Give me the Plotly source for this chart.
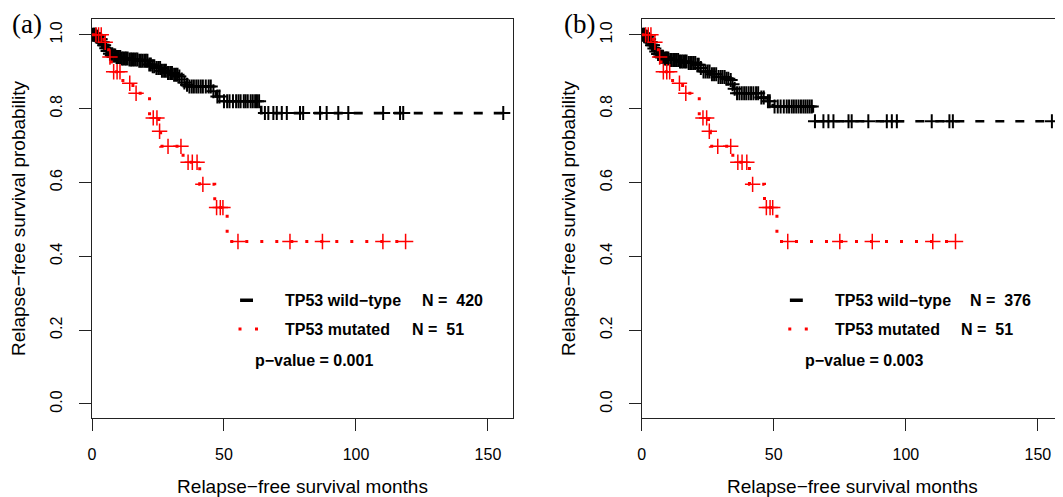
import numpy as np
import plotly.graph_objects as go

# ---- data (months, survival probability) ----
# panel (a)
wt_a_time = [0, 1.5, 2.5, 3.5, 4.3, 5.0, 5.7, 6.4, 7.3, 9.0, 11.1, 14.0, 17.5, 21.2, 22.5, 23.7,
             26.0, 28.5, 30.5, 32.6, 33.6, 34.6, 35.5, 36.4, 45.2, 47.0, 49.0, 64.1]
wt_a_surv = [1.0, 0.995, 0.988, 0.98, 0.972, 0.964, 0.956, 0.949, 0.944, 0.94, 0.936, 0.933, 0.93, 0.92,
             0.915, 0.91, 0.903, 0.897, 0.892, 0.887, 0.879, 0.871, 0.865, 0.86, 0.847, 0.833, 0.82, 0.788]
wt_a_cens = [0.3, 0.7, 1.0, 1.4, 1.8, 2.2, 2.6, 3.0, 3.3, 3.7, 4.1, 4.6, 5.4, 5.9, 6.3, 6.8, 7.5, 7.9,
             8.4, 8.8, 9.3, 9.8, 10.2, 10.7, 11.3, 11.8, 12.4, 12.9, 13.5, 14.2, 14.8, 15.3, 15.9, 16.6,
             17.2, 17.9, 18.5, 19.1, 19.8, 20.4, 21.0, 21.7, 22.3, 23.0, 23.6, 24.4, 25.1, 25.8, 26.5,
             27.3, 28.0, 28.8, 29.6, 30.3, 31.1, 31.8, 32.4, 33.1, 34.0, 35.0, 36.0, 36.9, 37.8, 38.6,
             39.5, 40.3, 41.2, 42.0, 43.1, 44.2, 45.0, 46.0, 47.5, 48.3, 50.0, 51.2, 52.1, 53.4, 54.6,
             55.5, 56.3, 57.5, 58.2, 59.0, 60.1, 60.9, 61.8, 62.5, 63.3,
             65.5, 66.8, 68.7, 70.0, 71.9, 73.8, 78.8, 80.0, 86.4, 88.9, 93.3, 97.1, 110.3, 116.7,
             117.9, 155.8]

# panel (b)
wt_b_time = [0, 1.3, 2.2, 2.9, 3.7, 4.5, 5.2, 6.0, 6.7, 8.5, 10.5, 14.0, 17.5, 20.6, 22.0, 23.1,
             26.0, 29.0, 31.5, 33.2, 34.0, 34.8, 35.7, 44.6, 47.0, 49.6, 64.8]
wt_b_surv = [1.0, 0.995, 0.988, 0.98, 0.972, 0.963, 0.955, 0.948, 0.941, 0.936, 0.932, 0.928, 0.924,
             0.919, 0.91, 0.901, 0.893, 0.886, 0.881, 0.878, 0.866, 0.854, 0.842, 0.83, 0.82, 0.806, 0.766]
wt_b_cens = [0.4, 0.8, 1.1, 1.6, 2.0, 2.5, 2.8, 3.2, 3.5, 3.9, 4.3, 4.8, 5.5, 6.2, 6.5, 7.1, 7.6, 8.1,
             8.7, 9.2, 9.6, 10.1, 10.8, 11.4, 12.0, 12.6, 13.2, 13.8, 14.5, 15.1, 15.7, 16.4, 17.0,
             17.8, 18.4, 19.0, 19.7, 20.3, 21.1, 21.6, 22.4, 23.4, 24.2, 25.0, 25.7, 26.6, 27.4, 28.2,
             29.1, 29.9, 30.6, 31.4, 32.1, 32.8, 33.7, 34.4, 35.2, 36.1, 37.0, 37.9, 38.8, 39.6, 40.5,
             41.4, 42.3, 43.3, 44.1, 45.3, 46.2, 47.8, 48.5, 50.3, 51.5, 52.6, 53.8, 54.9, 55.8, 56.8,
             57.6, 58.5, 59.4, 60.3, 61.2, 62.0, 62.8, 63.6,
             64.4, 65.6, 68.8, 70.7, 72.6, 78.3, 79.5, 85.8, 92.8, 94.7, 96.6, 109.8, 116.5, 117.8, 155.3]

# TP53 mutated (same in both panels)
mut_time = [0, 4.5, 5.5, 6.3, 7.3, 11.7, 15.5, 21.8, 25.3, 26.0, 34.5, 40.8, 46.5, 51.2]
mut_surv = [1.0, 0.98, 0.96, 0.94, 0.90, 0.869, 0.842, 0.775, 0.739, 0.698, 0.655, 0.595, 0.532, 0.44]
mut_cens = [1.5, 2.5, 3.5, 5.0, 6.8, 8.2, 9.5, 10.6, 14.3, 16.7, 23.2, 24.6, 25.6, 28.8, 33.7, 36.4,
            38.0, 39.8, 42.0, 47.2, 48.6, 49.6, 55.3, 75.0, 87.3, 110.2, 118.8]

panel_labels = ["(a)", "(b)"]
n_wt = [420, 376]
n_mut = [51, 51]
p_values = ["0.001", "0.003"]


def step_at(times, surv, t):
    idx = np.searchsorted(np.array(times), np.array(t), side="right") - 1
    return np.array(surv)[idx]


fig = go.Figure()

panels = [
    (wt_a_time, wt_a_surv, wt_a_cens, "x", "y"),
    (wt_b_time, wt_b_surv, wt_b_cens, "x2", "y2"),
]

for wt_t, wt_s, wt_c, xa, ya in panels:
    # wild-type: dashed black
    fig.add_trace(go.Scatter(
        x=wt_t + [max(wt_c)], y=wt_s + [wt_s[-1]], mode="lines", line_shape="hv",
        line=dict(color="black", width=2.6, dash="9px,11px"),
        xaxis=xa, yaxis=ya, showlegend=False, hoverinfo="skip"))
    fig.add_trace(go.Scatter(
        x=wt_c, y=step_at(wt_t, wt_s, wt_c), mode="markers",
        marker=dict(symbol="cross-thin", size=10, line=dict(color="black", width=2)),
        xaxis=xa, yaxis=ya, showlegend=False))
    # mutated: dotted red
    fig.add_trace(go.Scatter(
        x=mut_time + [max(mut_cens)], y=mut_surv + [mut_surv[-1]], mode="lines", line_shape="hv",
        line=dict(color="red", width=3, dash="3px,12px"),
        xaxis=xa, yaxis=ya, showlegend=False, hoverinfo="skip"))
    fig.add_trace(go.Scatter(
        x=mut_cens, y=step_at(mut_time, mut_surv, mut_cens), mode="markers",
        marker=dict(symbol="cross-thin", size=11, line=dict(color="red", width=1.5)),
        xaxis=xa, yaxis=ya, showlegend=False))

font = "Liberation Sans, Arial, Helvetica, sans-serif"
axis_common = dict(showgrid=False, zeroline=False, showline=True, mirror=True, automargin=False,
                   linecolor="#222", linewidth=1.3, ticks="outside", ticklen=12,
                   tickcolor="#222", tickwidth=1.3,
                   tickfont=dict(family=font, size=16, color="black"))
xkw = dict(axis_common, range=[0, 159.5], tickvals=[0, 50, 100, 150], ticklabelstandoff=10,
           title=dict(text="Relapse−free survival months", standoff=17,
                      font=dict(family=font, size=19, color="black")))
ykw = dict(axis_common, range=[-0.038, 1.043], tickvals=[0, 0.2, 0.4, 0.6, 0.8, 1.0],
           ticktext=["0.0", "0.2", "0.4", "0.6", "0.8", "1.0"], tickangle=-90, ticklabelstandoff=10,
           title=dict(text="Relapse−free survival probability", standoff=17,
                      font=dict(family=font, size=19, color="black")))

# the page body adds an 8px offset, so the figure is sized to fit the 1063x497 window
fig.update_layout(
    width=1055, height=489, margin=dict(l=84, r=0, t=11, b=79),
    paper_bgcolor="white", plot_bgcolor="white",
    xaxis=dict(xkw, domain=[0, 0.4336], anchor="y"),
    yaxis=dict(ykw, domain=[0, 1], anchor="x"),
    xaxis2=dict(xkw, domain=[0.5661, 1.0], anchor="y2"),
    yaxis2=dict(ykw, domain=[0, 1], anchor="x2"),
)

annotations = []
shapes = []
label_x = [-0.0845, 0.484]
for i, (xa, ya) in enumerate([("x", "y"), ("x2", "y2")]):
    annotations.append(dict(text=panel_labels[i], xref="paper", yref="paper", x=label_x[i], y=0.9875,
                            xanchor="left", yanchor="middle", showarrow=False,
                            font=dict(family="Liberation Serif, Times New Roman, serif", size=27,
                                      color="black")))
    legend_rows = [
        ("TP53 wild−type", 72.3, 0.281),
        ("N =\u00a0 %d" % n_wt[i], 124.2 if i == 0 else 123.6, 0.281),
        ("TP53 mutated", 72.3, 0.203),
        ("N =\u00a0 %d" % n_mut[i], 120.5 if i == 0 else 120.0, 0.203),
        ("p−value = " + p_values[i], 61.0, 0.119),
    ]
    for txt, lx, ly in legend_rows:
        annotations.append(dict(text="<b>%s</b>" % txt, xref=xa, yref=ya, x=lx, y=ly,
                                xanchor="left", yanchor="middle", showarrow=False,
                                font=dict(family=font, size=16, color="black")))
    shapes.append(dict(type="line", xref=xa, yref=ya, x0=56.1, x1=61.0, y0=0.281, y1=0.281,
                       line=dict(color="black", width=3.5)))
    shapes.append(dict(type="line", xref=xa, yref=ya, x0=55.5, x1=63.2, y0=0.203, y1=0.203,
                       line=dict(color="red", width=3, dash="3px,13.5px")))

fig.update_layout(annotations=annotations, shapes=shapes)

fig.write_html("out.html")
